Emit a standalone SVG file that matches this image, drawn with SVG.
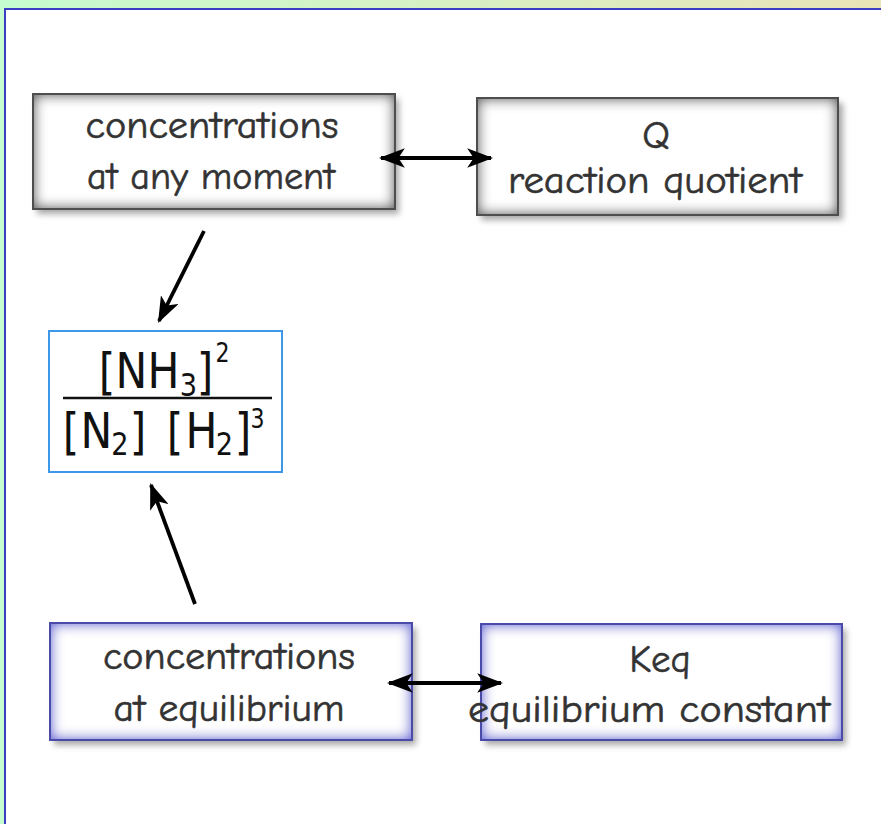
<svg xmlns="http://www.w3.org/2000/svg" width="881" height="824" viewBox="0 0 881 824">
<defs>
<linearGradient id="bg" x1="0" y1="0" x2="1" y2="0">
<stop offset="0" stop-color="#c6fdd0"/>
<stop offset="1" stop-color="#e9e4b8"/>
</linearGradient>
<filter id="shadow" x="-10%" y="-10%" width="120%" height="130%">
<feGaussianBlur stdDeviation="3"/>
</filter>
<filter id="glowGray" x="0" y="0" width="100%" height="100%">
<feGaussianBlur in="SourceAlpha" stdDeviation="7" result="b"/>
<feComposite in="SourceAlpha" in2="b" operator="arithmetic" k2="1" k3="-1" result="edge"/>
<feFlood flood-color="#666"/>
<feComposite in2="edge" operator="in" result="g"/>
<feMerge><feMergeNode in="SourceGraphic"/><feMergeNode in="g"/><feMergeNode in="g"/></feMerge>
</filter>
<filter id="glowBlue" x="0" y="0" width="100%" height="100%">
<feGaussianBlur in="SourceAlpha" stdDeviation="7" result="b"/>
<feComposite in="SourceAlpha" in2="b" operator="arithmetic" k2="1" k3="-1" result="edge"/>
<feFlood flood-color="#7070dc"/>
<feComposite in2="edge" operator="in" result="g"/>
<feMerge><feMergeNode in="SourceGraphic"/><feMergeNode in="g"/><feMergeNode in="g"/></feMerge>
</filter>
<marker id="ah" viewBox="0 0 24 18" refX="22" refY="9" markerWidth="26" markerHeight="20" markerUnits="userSpaceOnUse" orient="auto-start-reverse">
<path d="M24,9 L0,0 L6,9 L0,18 Z" fill="#000"/>
</marker>
</defs>
<style>
.sh{fill:#8a8a8a;opacity:0.75;filter:url(#shadow)}
.gbox{fill:#fff;filter:url(#glowGray)}
.gborder{fill:none;stroke:#4e4e4e;stroke-width:2}
.bbox{fill:#fff;filter:url(#glowBlue)}
.bborder{fill:none;stroke:#4a4aa8;stroke-width:2}
.lbl{font-family:"Comic Sans MS","Comic Neue","Open Sans",sans-serif;font-size:39px;fill:#333;stroke:#333;stroke-width:0.6;text-anchor:middle}
.f{font-family:"DejaVu Sans",sans-serif;fill:#111;text-anchor:middle}
.conn line{stroke:#000;stroke-width:3.8}
</style>
<rect x="0" y="0" width="881" height="824" fill="url(#bg)"/>
<rect x="4" y="8" width="877" height="816" fill="#fff"/>
<line x1="4" y1="9" x2="881" y2="9" stroke="#3c3cc4" stroke-width="2"/>
<line x1="5" y1="9" x2="5" y2="824" stroke="#3c3cc4" stroke-width="2"/>

<g id="node-any-moment">
<rect class="sh" x="37" y="99" width="362" height="115"/>
<rect class="gbox" x="33" y="94" width="362" height="115"/>
<rect class="gborder" x="33" y="94" width="362" height="115"/>
<text class="lbl" x="212" y="138" textLength="253" lengthAdjust="spacingAndGlyphs">concentrations</text>
<text class="lbl" x="211" y="189" textLength="248" lengthAdjust="spacingAndGlyphs">at any moment</text>
</g>

<g id="node-Q">
<rect class="sh" x="481" y="103" width="362" height="117"/>
<rect class="gbox" x="477" y="98" width="361" height="117"/>
<rect class="gborder" x="477" y="98" width="361" height="117"/>
<text class="lbl" x="656" y="148">Q</text>
<text class="lbl" x="655" y="193" textLength="294" lengthAdjust="spacingAndGlyphs">reaction quotient</text>
</g>

<g id="node-formula">
<rect x="49" y="331" width="233" height="141" fill="#fff" stroke="#3d98e8" stroke-width="2"/>
<line x1="63" y1="398" x2="272" y2="398" stroke="#111" stroke-width="2.5"/>
<text class="f" font-size="50" transform="translate(107,389) scale(0.85,1)">[</text>
<text class="f" font-size="50" transform="translate(131.5,388) scale(0.85,1)">N</text>
<text class="f" font-size="50" transform="translate(163.5,388) scale(0.85,1)">H</text>
<text class="f" font-size="32" transform="translate(188.5,396) scale(0.85,1)">3</text>
<text class="f" font-size="50" transform="translate(205,389) scale(0.85,1)">]</text>
<text class="f" font-size="26" transform="translate(222.5,362) scale(0.85,1)">2</text>
<text class="f" font-size="50" transform="translate(71,449) scale(0.85,1)">[</text>
<text class="f" font-size="50" transform="translate(96.5,448) scale(0.85,1)">N</text>
<text class="f" font-size="32" transform="translate(120,455) scale(0.85,1)">2</text>
<text class="f" font-size="50" transform="translate(138,449) scale(0.85,1)">]</text>
<text class="f" font-size="50" transform="translate(175,449) scale(0.85,1)">[</text>
<text class="f" font-size="50" transform="translate(201.5,448) scale(0.85,1)">H</text>
<text class="f" font-size="32" transform="translate(224.5,455) scale(0.85,1)">2</text>
<text class="f" font-size="50" transform="translate(243,449) scale(0.85,1)">]</text>
<text class="f" font-size="26" transform="translate(257.5,428) scale(0.85,1)">3</text>
</g>

<g id="node-equilibrium">
<rect class="sh" x="54" y="628" width="362" height="117"/>
<rect class="bbox" x="50" y="623" width="362" height="117"/>
<rect class="bborder" x="50" y="623" width="362" height="117"/>
<text class="lbl" x="229" y="669" textLength="252" lengthAdjust="spacingAndGlyphs">concentrations</text>
<text class="lbl" x="229" y="721" textLength="231" lengthAdjust="spacingAndGlyphs">at equilibrium</text>
</g>

<g id="node-Keq">
<rect class="sh" x="485" y="629" width="361" height="116"/>
<rect class="bbox" x="481" y="624" width="361" height="116"/>
<rect class="bborder" x="481" y="624" width="361" height="116"/>
<text class="lbl" x="660" y="672">Keq</text>
<text class="lbl" x="649" y="722" textLength="362" lengthAdjust="spacingAndGlyphs">equilibrium constant</text>
</g>

<g id="connectors" class="conn">
<line x1="381" y1="158" x2="491" y2="158" marker-start="url(#ah)" marker-end="url(#ah)"/>
<line x1="204" y1="231" x2="159" y2="321" marker-end="url(#ah)"/>
<line x1="195" y1="604" x2="151" y2="485" marker-end="url(#ah)"/>
<line x1="389" y1="683" x2="501" y2="683" marker-start="url(#ah)" marker-end="url(#ah)"/>
</g>
</svg>
